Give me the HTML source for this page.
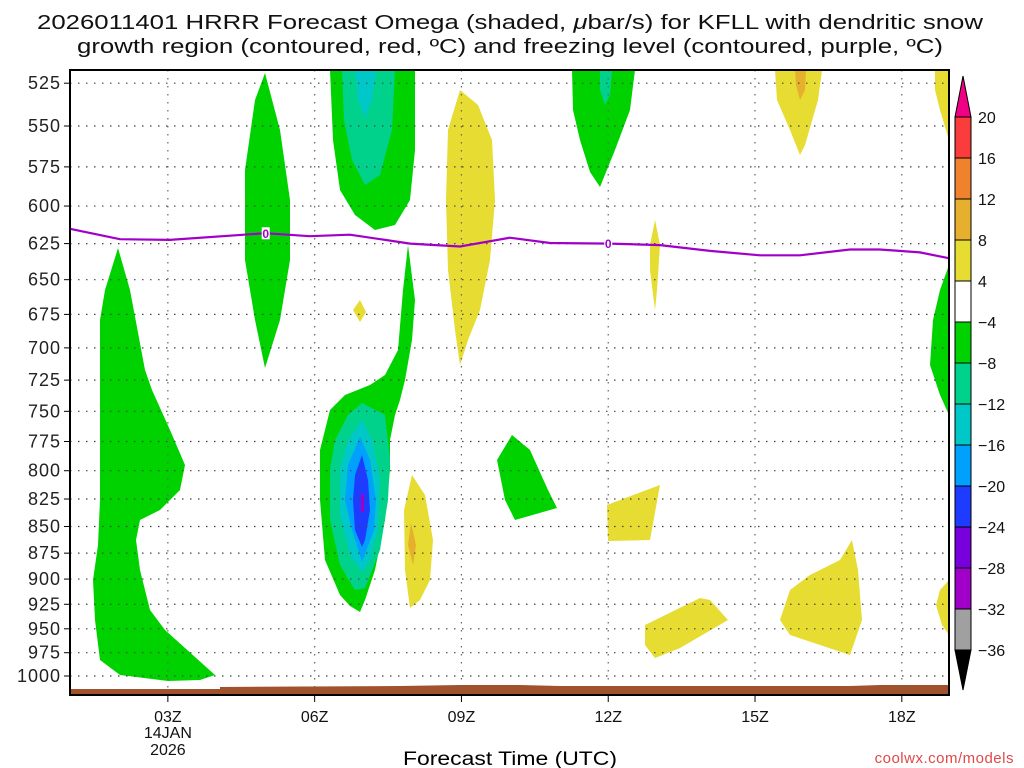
<!DOCTYPE html>
<html><head><meta charset="utf-8"><style>
html,body{margin:0;padding:0;background:#fff;}
svg{display:block;font-family:"Liberation Sans",sans-serif;}
</style></head><body>
<svg id="chart" width="1024" height="768" viewBox="0 0 1024 768">
<g font-size="20" fill="#111">
<text x="37" y="29" textLength="946" lengthAdjust="spacingAndGlyphs">2026011401 HRRR Forecast Omega (shaded, <tspan font-style="italic">μ</tspan>bar/s) for KFLL with dendritic snow</text>
<text x="77" y="53" textLength="866" lengthAdjust="spacingAndGlyphs">growth region (contoured, red, ºC) and freezing level (contoured, purple, ºC)</text>
</g>
<g id="shades">
<path fill="#00d200" d="M118,248 L130,290 L145,370 L152,390 L170,430 L185,465 L180,490 L160,510 L140,520 L136,540 L140,570 L150,610 L165,630 L185,648 L215,675 L200,680 L168,681 L120,675 L100,660 L95,620 L93,580 L98,545 L100,500 L100,400 L100,320 L105,290 Z"/>
<path fill="#00d200" d="M265,73 L280,130 L290,200 L290,260 L280,320 L265,368 L255,320 L245,260 L245,170 L255,100 Z"/>
<path fill="#00d200" d="M330,70 L415,70 L415,150 L410,200 L395,225 L375,230 L355,215 L340,190 L333,140 Z"/>
<path fill="#00d28c" d="M342,70 L395,70 L392,130 L380,175 L365,185 L352,160 L344,120 Z"/>
<path fill="#00c8c8" d="M355,70 L376,70 L372,100 L365,118 L358,100 Z"/>
<path fill="#00d200" d="M408,245 L415,300 L412,340 L405,380 L400,400 L395,415 L390,440 L390,470 L385,520 L375,570 L365,600 L360,612 L350,606 L340,595 L325,560 L320,500 L320,450 L330,410 L345,395 L370,385 L385,375 L398,350 L403,290 Z"/>
<path fill="#00d28c" d="M362,403 L385,415 L390,460 L388,500 L380,550 L365,588 L355,590 L340,565 L330,520 L330,470 L335,440 L348,415 Z"/>
<path fill="#00c8c8" d="M362,420 L372,440 L380,480 L378,530 L370,560 L362,572 L350,555 L340,515 L340,470 L348,440 Z"/>
<path fill="#00a0ff" d="M360,437 L370,460 L376,500 L374,530 L362,562 L352,530 L345,500 L348,465 Z"/>
<path fill="#1e3cff" d="M362,455 L368,480 L370,510 L365,540 L362,547 L355,530 L353,500 L355,475 Z"/>
<path fill="#a000c8" d="M361,494 L364,494 L364,512 L361,512 Z"/>
<path fill="#e6dc32" d="M360,300 L366,312 L360,322 L353,310 Z"/>
<path fill="#e6dc32" d="M460,90 L478,105 L492,140 L495,200 L490,260 L480,310 L468,340 L460,365 L455,330 L448,270 L446,200 L448,130 Z"/>
<path fill="#e6dc32" d="M412,475 L425,495 L433,540 L430,580 L420,600 L410,608 L405,570 L404,510 Z"/>
<path fill="#e6af2d" d="M411,523 L416,545 L413,565 L408,545 Z"/>
<path fill="#00d200" d="M512,435 L530,450 L548,490 L557,508 L515,520 L505,500 L497,460 Z"/>
<path fill="#00d200" d="M572,70 L635,70 L630,110 L615,150 L600,187 L590,172 L580,140 L573,110 Z"/>
<path fill="#00d28c" d="M600,70 L612,70 L610,95 L605,105 L600,90 Z"/>
<path fill="#e6dc32" d="M607,505 L660,485 L650,540 L608,541 Z"/>
<path fill="#e6dc32" d="M655,220 L660,245 L657,290 L655,310 L650,270 L650,245 Z"/>
<path fill="#e6dc32" d="M645,625 L700,598 L710,600 L728,620 L680,648 L655,658 L645,645 Z"/>
<path fill="#e6dc32" d="M790,590 L810,575 L840,560 L852,540 L858,570 L862,620 L850,655 L820,645 L790,635 L780,620 Z"/>
<path fill="#e6dc32" d="M775,70 L822,70 L818,100 L805,145 L800,155 L790,130 L777,100 Z"/>
<path fill="#e6af2d" d="M795,70 L806,70 L805,90 L800,100 L796,85 Z"/>
<path fill="#e6dc32" d="M935,70 L949,70 L949,140 L940,110 L935,90 Z"/>
<path fill="#00d200" d="M949,265 L940,290 L933,320 L930,365 L940,395 L949,415 Z"/>
<path fill="#e6dc32" d="M949,580 L940,590 L936,605 L942,625 L949,635 Z"/>
</g>
<path fill="#a0522d" d="M70,689 L220,689 L220,687 L400,686 L460,685 L520,685 L560,686 L850,686 L880,685 L949,685 L949,695 L70,695 Z"/>
<g id="grid"></g>
<g id="freeze"></g>
<rect x="70" y="70" width="879" height="625" fill="none" stroke="#000" stroke-width="2"/>
<g id="yaxis" font-size="18" fill="#222" text-anchor="end" letter-spacing="1"></g>
<g id="xaxis" font-size="16" fill="#111" text-anchor="middle"></g>
<text x="403" y="765" font-size="19" fill="#000" textLength="214" lengthAdjust="spacingAndGlyphs">Forecast Time (UTC)</text>
<text x="1014" y="763" font-size="15" text-anchor="end" fill="#e04848" letter-spacing="0.5">coolwx.com/models</text>
<g id="cbar" font-size="16" fill="#111"></g>
</svg>
<script>
const levels = [525,550,575,600,625,650,675,700,725,750,775,800,825,850,875,900,925,950,975,1000];
const xTicks = [3,6,9,12,15,18];
const xTickLabels = ["03Z","06Z","09Z","12Z","15Z","18Z"];
const freezeHours = [1,2.02,3.04,4.99,5.9,6.72,7.95,8.97,9.99,10.81,12.04,13.06,14.08,15.1,15.92,16.94,17.55,18.37,18.96];
const freezeP = [615,622,622.5,618,620,619,625,627,621,624.6,625,626,630,633,633,629,629,631,635];
const freezeLabelHours = [5,12];
const cbarValues = [20,16,12,8,4,-4,-8,-12,-16,-20,-24,-28,-32,-36];
const cbarColors = ["#fa3c3c","#f0822d","#e6af2d","#e6dc32","#ffffff","#00d200","#00d28c","#00c8c8","#00a0ff","#1e3cff","#7800dc","#a000c8","#a0a0a0"];

const NS="http://www.w3.org/2000/svg";
const X = h => 70 + (h-1)*48.93;
const Y = p => 676 - 920*Math.log(1000/p);
function mk(tag, attrs, parent){const e=document.createElementNS(NS,tag);for(const k in attrs)e.setAttribute(k,attrs[k]);parent.appendChild(e);return e;}

const grid=document.getElementById('grid'), ya=document.getElementById('yaxis'), xa=document.getElementById('xaxis');
levels.forEach(p=>{
  const y=Y(p);
  const l=mk('line',{x1:70,x2:949,y1:y,y2:y,stroke:'#444','stroke-width':1.2,'stroke-dasharray':'1.5 6.5'},grid);
  
  
  const t=mk('line',{x1:64,x2:70,y1:y,y2:y,stroke:'#000','stroke-width':1},ya);
  
  
  const tx=mk('text',{x:61,y:y+6},ya); tx.textContent=p;
  
  
});
xTicks.forEach((h,i)=>{
  const x=X(h);
  const l=mk('line',{x1:x,x2:x,y1:70,y2:695,stroke:'#666','stroke-width':1.2,'stroke-dasharray':'1.5 6.5'},grid);
  
  
  const t=mk('line',{x1:x,x2:x,y1:695,y2:702,stroke:'#000','stroke-width':1},xa);
  
  
  const tx=mk('text',{x:x,y:722},xa); tx.textContent=xTickLabels[i];
  
  
  if(i===0){
    const d1=mk('text',{x:x,y:738},xa); d1.textContent='14JAN';
    
    
    const d2=mk('text',{x:x,y:755},xa); d2.textContent='2026';
    
    
  }
});
const fz=document.getElementById('freeze');
const pts=freezeHours.map((h,i)=>X(h).toFixed(1)+','+Y(freezeP[i]).toFixed(1)).join(' ');
const pl=mk('polyline',{points:pts,fill:'none',stroke:'#a000c8','stroke-width':2.2},fz);


function interpP(h){for(let i=0;i<freezeHours.length-1;i++){if(h>=freezeHours[i]&&h<=freezeHours[i+1]){const f=(h-freezeHours[i])/(freezeHours[i+1]-freezeHours[i]);return freezeP[i]+f*(freezeP[i+1]-freezeP[i]);}}return freezeP[0];}
freezeLabelHours.forEach(h=>{
  const x=X(h), y=Y(interpP(h));
  const r=mk('rect',{x:x-4,y:y-6,width:8,height:12,fill:'#fff'},fz);
  
  
  const t=mk('text',{x:x,y:y+4.5,'font-size':12,'font-weight':'bold',fill:'#a000c8','text-anchor':'middle'},fz); t.textContent='0';
  
  
});
const cb=document.getElementById('cbar');
const bx=955,bw=16,cbTop=117,bh=41;
const tri=mk('path',{d:`M${bx},${cbTop} L${bx+bw/2},76 L${bx+bw},${cbTop} Z`,fill:'#f00082',stroke:'#000','stroke-width':1},cb);


cbarColors.forEach((c,i)=>{
  const r=mk('rect',{x:bx,y:cbTop+i*bh,width:bw,height:bh,fill:c,stroke:'#000','stroke-width':1},cb);
  
  
});
const cbBot=cbTop+cbarColors.length*bh;
const tri2=mk('path',{d:`M${bx},${cbBot} L${bx+bw/2},690 L${bx+bw},${cbBot} Z`,fill:'#000',stroke:'#000','stroke-width':1},cb);


cbarValues.forEach((v,i)=>{
  const t=mk('text',{x:978,y:cbTop+i*bh+6},cb);
  t.textContent=(v<0?'\u2212':'')+Math.abs(v);
  
  
});
</script>
</body></html>
